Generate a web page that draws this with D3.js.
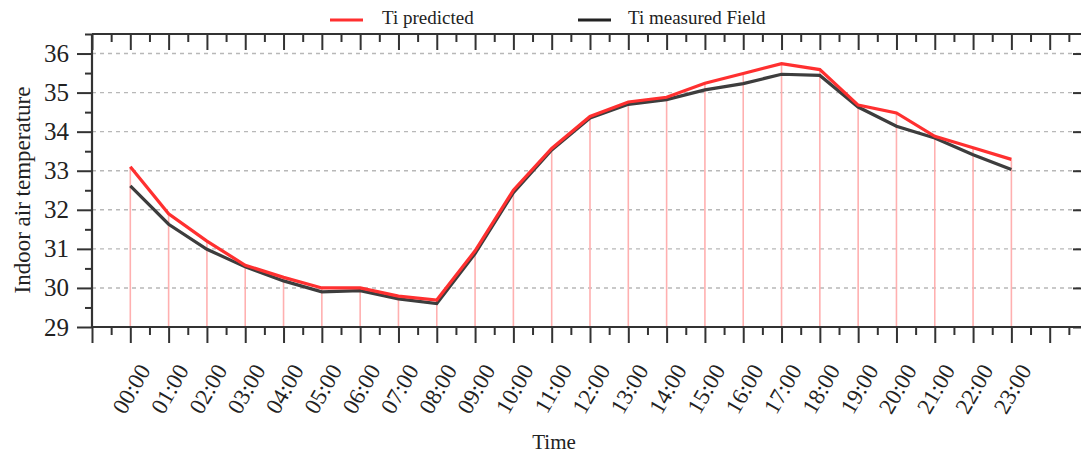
<!DOCTYPE html>
<html><head><meta charset="utf-8">
<script src="https://cdn.jsdelivr.net/npm/d3@7"></script>
<style>body{margin:0;background:#fff}svg{display:block}text{font-family:"Liberation Serif","Times New Roman",serif;fill:#222}</style>
</head><body><svg id="c" width="1081" height="454"></svg>
<script>
const hours = ["00:00","01:00","02:00","03:00","04:00","05:00","06:00","07:00","08:00","09:00","10:00","11:00","12:00","13:00","14:00","15:00","16:00","17:00","18:00","19:00","20:00","21:00","22:00","23:00"];
const predicted = [33.1,31.9,31.2,30.58,30.27,30.0,30.0,29.79,29.69,30.95,32.5,33.57,34.39,34.76,34.88,35.24,35.49,35.74,35.59,34.68,34.48,33.88,33.59,33.29];
const measured  = [32.61,31.63,30.99,30.54,30.18,29.9,29.93,29.72,29.6,30.88,32.44,33.53,34.35,34.7,34.82,35.07,35.23,35.47,35.44,34.63,34.14,33.84,33.41,33.03];
const yTicks = [29,30,31,32,33,34,35,36];
const seriesNames = ["Ti predicted","Ti measured Field"];

const svg = d3.select("#c");
const L=92, R=1088, T=34, B=327;
const x = d3.scaleLinear().domain([-1,25]).range([L,R]);
const y = d3.scaleLinear().domain([29,36.5]).range([B,T]);
const idx = d3.range(hours.length);

// gridlines
svg.append("g").selectAll("line").data(yTicks.slice(1)).join("line")
  .attr("x1",L).attr("x2",R).attr("y1",d=>y(d)).attr("y2",d=>y(d))
  .attr("stroke","#b8b8b8").attr("stroke-width",1.4).attr("stroke-dasharray","4,4");

// drop lines
svg.append("g").selectAll("line").data(idx).join("line")
  .attr("x1",i=>x(i)).attr("x2",i=>x(i)).attr("y1",B).attr("y2",i=>y(Math.max(predicted[i],measured[i])))
  .attr("stroke","#ffb0b0").attr("stroke-width",1.6);

const line = d3.line().x((d,i)=>x(i)).y(d=>y(d));
svg.append("path").datum(measured).attr("d",line).attr("fill","none").attr("stroke","#3d3d3d").attr("stroke-width",3.2);
svg.append("path").datum(predicted).attr("d",line).attr("fill","none").attr("stroke","#ff3030").attr("stroke-width",3.2);

// axes
const majorX = d3.range(-1,26,1), minorX = d3.range(-0.5,25,1);
const majorY = yTicks, minorY = d3.range(29.5,36.6,1);
const ax = "#333";
// bottom
const gb = svg.append("g").attr("transform",`translate(0,${B})`);
gb.call(d3.axisBottom(x).tickValues(majorX).tickSize(16).tickFormat("")).call(g=>g.select(".domain").remove());
gb.append("g").call(d3.axisBottom(x).tickValues(minorX).tickSize(8).tickFormat("")).call(g=>g.select(".domain").remove());
// top
const gt = svg.append("g").attr("transform",`translate(0,${T})`);
gt.call(d3.axisBottom(x).tickValues(majorX).tickSize(16).tickFormat("")).call(g=>g.select(".domain").remove());
gt.append("g").call(d3.axisBottom(x).tickValues(minorX).tickSize(8).tickFormat("")).call(g=>g.select(".domain").remove());
// left
const gl = svg.append("g").attr("transform",`translate(${L},0)`);
gl.call(d3.axisLeft(y).tickValues(majorY).tickSize(15).tickPadding(8).tickFormat(d3.format("d"))).call(g=>g.select(".domain").remove());
gl.append("g").call(d3.axisLeft(y).tickValues(minorY).tickSize(7).tickFormat("")).call(g=>g.select(".domain").remove());
gl.selectAll("text").attr("font-size",25).attr("font-family","Liberation Serif").attr("fill","#222");
// right
const gr = svg.append("g").attr("transform",`translate(${R},0)`);
gr.call(d3.axisLeft(y).tickValues(majorY).tickSize(15).tickFormat("")).call(g=>g.select(".domain").remove());
gr.append("g").call(d3.axisLeft(y).tickValues(minorY).tickSize(7).tickFormat("")).call(g=>g.select(".domain").remove());
svg.selectAll(".tick line").attr("stroke",ax).attr("stroke-width",2);
// frame
svg.append("line").attr("x1",L).attr("x2",R).attr("y1",B).attr("y2",B).attr("stroke",ax).attr("stroke-width",2.2);
svg.append("line").attr("x1",L).attr("x2",R).attr("y1",T).attr("y2",T).attr("stroke",ax).attr("stroke-width",2.2);
svg.append("line").attr("x1",L).attr("x2",L).attr("y1",T).attr("y2",B).attr("stroke",ax).attr("stroke-width",2.2);

// x tick labels
svg.append("g").selectAll("text").data(idx).join("text")
  .attr("transform",i=>`translate(${x(i)+14},366) rotate(-60)`)
  .attr("text-anchor","end").attr("dy","0.35em").attr("font-size",23).text(i=>hours[i]);

// axis titles
svg.append("text").attr("transform","translate(30,190) rotate(-90)").attr("text-anchor","middle").attr("font-size",23).text("Indoor air temperature");
svg.append("text").attr("x",554).attr("y",449).attr("text-anchor","middle").attr("font-size",21).text("Time");

// legend
const leg = [{n:seriesNames[0],c:"#ff3030",x:330,tx:382},{n:seriesNames[1],c:"#222",x:578,tx:628}];
leg.forEach(d=>{
  svg.append("line").attr("x1",d.x).attr("x2",d.x+33).attr("y1",20).attr("y2",20).attr("stroke",d.c).attr("stroke-width",3);
  svg.append("text").attr("x",d.tx).attr("y",24).attr("font-size",19).text(d.n);
});
</script></body></html>
